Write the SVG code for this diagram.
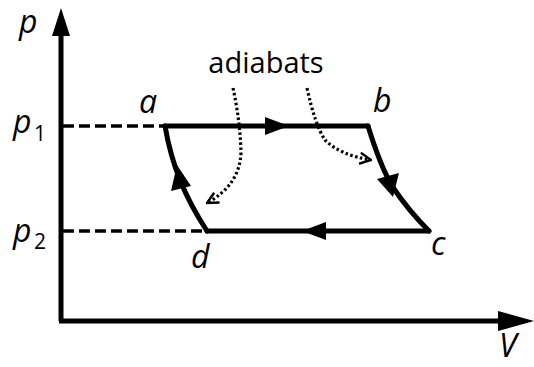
<svg xmlns="http://www.w3.org/2000/svg" width="534" height="367" viewBox="0 0 534 367">
<defs>
<marker id="open" viewBox="0 0 10 10" refX="9" refY="5" markerWidth="14" markerHeight="14" orient="auto" markerUnits="userSpaceOnUse">
<path d="M1,1 L9,5 L1,9" fill="none" stroke="#000" stroke-width="1.7"/>
</marker>
</defs>
<style>
.ax{stroke:#000;stroke-width:5;fill:none}
.cyc{stroke:#000;stroke-width:5;fill:none;stroke-linejoin:round;stroke-linecap:round}
.dash{stroke:#000;stroke-width:3.5;fill:none;stroke-dasharray:11,5}
.dot{stroke:#000;stroke-width:3.2;fill:none;stroke-dasharray:2.5,2.5}
.lab{font-family:"Open Sans","Liberation Sans",sans-serif;font-style:italic;font-size:32px;fill:#000}
.sub{font-family:"Open Sans","Liberation Sans",sans-serif;font-size:21px;fill:#000}
.txt{font-family:"Open Sans","Liberation Sans",sans-serif;font-size:29px;fill:#000}
</style>
<g id="axes">
<path class="ax" d="M61,321 V34"/>
<path d="M52,36 L61,8 L70,36 Z" fill="#000"/>
<path class="ax" d="M59,321 H500"/>
<path d="M498,311 L534,321 L498,331 Z" fill="#000"/>
</g>
<g id="guides">
<path class="dash" d="M63,126 H163"/>
<path class="dash" d="M63,231 H205"/>
</g>
<g id="connectors">
<path class="cyc" d="M165,126 H368"/>
<path d="M265,117 L289,126 L265,135 Z" fill="#000"/>
<path class="cyc" d="M368,126 Q380,165 392,186 Q408,210 429,231"/>
<path d="M377,179 L393,197 L399,173 Z" fill="#000"/>
<path class="cyc" d="M429,231 H207"/>
<path d="M326,222 L302,231 L326,240 Z" fill="#000"/>
<path class="cyc" d="M207,231 Q190,205 180,180 Q170,155 165,126"/>
<path d="M171,191 L177,165 L191,186 Z" fill="#000"/>
<path class="dot" d="M233,88 Q240,120 241,152 Q240,185 207,203" marker-end="url(#open)"/>
<path class="dot" d="M307,88 Q315,125 325,140 Q340,155 371,160" marker-end="url(#open)"/>
</g>
<g id="labels">
<text class="lab" x="19" y="33">p</text>
<text class="lab" x="13" y="133">p</text><text class="sub" x="34" y="141">1</text>
<text class="lab" x="13" y="242">p</text><text class="sub" x="34" y="249">2</text>
<text class="lab" x="139" y="113">a</text>
<text class="lab" x="373" y="112">b</text>
<text class="lab" x="431" y="255">c</text>
<text class="lab" x="191" y="268">d</text>
<text class="lab" x="499" y="357">V</text>
<text class="txt" x="266" y="73" text-anchor="middle">adiabats</text>
</g>
</svg>
